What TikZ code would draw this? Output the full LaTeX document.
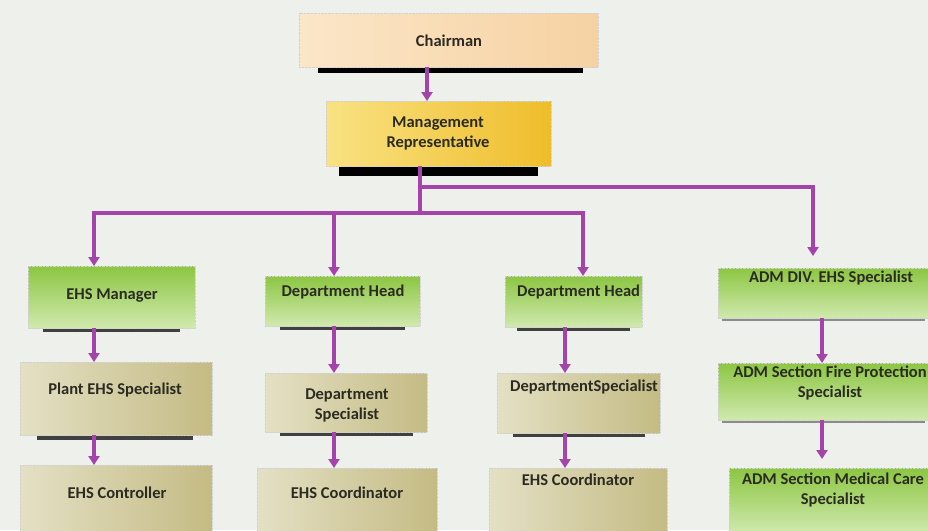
\documentclass[tikz,border=0pt]{standalone}
\usepackage{fontspec}
\setmainfont{Carlito}
\usetikzlibrary{arrows.meta}

\definecolor{bg}{HTML}{EDF0EB}
\definecolor{ink}{HTML}{2B2B22}
\definecolor{wire}{HTML}{A444AA}
\definecolor{peachL}{HTML}{FBE6C8}
\definecolor{peachR}{HTML}{F6D2A2}
\definecolor{goldL}{HTML}{F9E283}
\definecolor{goldR}{HTML}{EFBD2A}
\definecolor{greenT}{HTML}{8CC642}
\definecolor{greenB}{HTML}{D0E9AE}
\definecolor{tanL}{HTML}{E4E0C4}
\definecolor{tanR}{HTML}{C4BB84}

\tikzset{
  box/.style={anchor=north west, inner sep=0pt, outer sep=0pt,
    draw=black!18, densely dotted, line width=0.4pt},
  peachbox/.style={box, left color=peachL, right color=peachR},
  goldbox/.style={box, left color=goldL, right color=goldR},
  greenbox/.style={box, top color=greenT, bottom color=greenB},
  tanbox/.style={box, left color=tanL, right color=tanR},
  lbl/.style={font=\bfseries\fontsize{16.5}{20}\selectfont, text=ink,
    align=center, inner sep=0pt},
  conn/.style={draw=wire, line width=3.4pt,
    -{Triangle[width=11pt,length=9pt]}},
  bar/.style={fill=black},
  thinbar/.style={fill=black!75},
}

\begin{document}
\begin{tikzpicture}[x=1pt,y=-1pt]
  \useasboundingbox (0,0) rectangle (928,530);
  \clip (0,0) rectangle (928,530);
  \fill[bg] (0,0) rectangle (928,530);

  % shadow bars beneath the boxes
  \path[bar] (318,66) rectangle (583,73);
  \path[bar] (339,165) rectangle (538,176);
  \path[thinbar] (43,327) rectangle (180,332);
  \path[thinbar] (37,434) rectangle (193,440);
  \path[thinbar] (280,325) rectangle (405,330);
  \path[thinbar] (280,431) rectangle (413,436);
  \path[thinbar] (517,326) rectangle (630,331);
  \path[thinbar] (513,432) rectangle (645,437);
  \path[fill=black!45] (722,317) rectangle (925,321);
  \path[fill=black!45] (722,419) rectangle (925,423);

  % boxes
  \node[peachbox, minimum width=299pt, minimum height=54pt] (chair) at (299,13) {};
  \node[goldbox,  minimum width=225pt, minimum height=65pt] (mr)    at (326,101) {};

  \node[greenbox, minimum width=167pt, minimum height=62pt] (ehsm)  at (28,266) {};
  \node[tanbox,   minimum width=192pt, minimum height=73pt] (plant) at (20,362) {};
  \node[tanbox,   minimum width=192pt, minimum height=70pt] (ctrl)  at (20,465) {};

  \node[greenbox, minimum width=155pt, minimum height=50pt] (dhA)   at (265,276) {};
  \node[tanbox,   minimum width=162pt, minimum height=59pt] (dsA)   at (265,373) {};
  \node[tanbox,   minimum width=180pt, minimum height=65pt] (ecA)   at (257,468) {};

  \node[greenbox, minimum width=137pt, minimum height=51pt] (dhB)   at (505,276) {};
  \node[tanbox,   minimum width=163pt, minimum height=60pt] (dsB)   at (497,373) {};
  \node[tanbox,   minimum width=178pt, minimum height=65pt] (ecB)   at (489,468) {};

  \node[greenbox, minimum width=215pt, minimum height=50pt] (adm)   at (718,268) {};
  \node[greenbox, minimum width=215pt, minimum height=57pt] (fire)  at (718,363) {};
  \node[greenbox, minimum width=210pt, minimum height=65pt] (med)   at (729,468) {};

  % labels
  \node[lbl] (tChair) at (449,41)  {Chairman};
  \node[lbl] (tMr)    at (438,133.5) {Management\\Representative};
  \node[lbl] (tEhsm)  at (112,295) {EHS Manager};
  \node[lbl] (tPlant) at (115,390) {Plant EHS Specialist};
  \node[lbl] (tCtrl)  at (117,493) {EHS Controller};
  \node[lbl] (tDhA)   at (343,292) {Department Head};
  \node[lbl] (tDsA)   at (347,405) {Department\\Specialist};
  \node[lbl] (tEcA)   at (347,493) {EHS Coordinator};
  \begin{scope}
    \clip (dhB.south west) rectangle (dhB.north east);
    \node[lbl, anchor=west] (tDhB) at (517,292) {Department Head};
  \end{scope}
  \node[lbl] (tDsB)   at (584,387) {DepartmentSpecialist};
  \node[lbl] (tEcB)   at (578,480) {EHS Coordinator};
  \node[lbl] (tAdm)   at (831,278) {ADM DIV. EHS Specialist};
  \node[lbl] (tFire)  at (830,382.5) {ADM Section Fire Protection\\Specialist};
  \node[lbl] (tMed)   at (833,490) {ADM Section Medical Care\\Specialist};

  % connector guide lines
  \coordinate (xTop) at (427,0);
  \coordinate (xHub) at (420,0);
  \coordinate (xA)   at (94,0);
  \coordinate (xB)   at (334,0);
  \coordinate (xC)   at (583,0);
  \coordinate (xC2)  at (565,0);
  \coordinate (xD)   at (813,0);
  \coordinate (xD2)  at (822,0);
  \coordinate (busL) at (0,213);
  \coordinate (busR) at (0,187);

  % connectors
  \draw[conn] (chair.south -| xTop) -- (mr.north -| xTop);
  \draw[conn] (mr.south -| xHub) |- (busL -| xA) -- (ehsm.north -| xA);
  \draw[conn] (mr.south -| xHub) |- (busL -| xB) -- (dhA.north -| xB);
  \draw[conn] (mr.south -| xHub) |- (busL -| xC) -- (dhB.north -| xC);
  \draw[conn, shorten >=12pt] (mr.south -| xHub) |- (busR -| xD) -- (adm.north -| xD);

  \draw[conn] (ehsm.south -| xA) -- (plant.north -| xA);
  \draw[conn] (plant.south -| xA) -- (ctrl.north -| xA);
  \draw[conn] (dhA.south -| xB) -- (dsA.north -| xB);
  \draw[conn] (dsA.south -| xB) -- (ecA.north -| xB);
  \draw[conn] (dhB.south -| xC2) -- (dsB.north -| xC2);
  \draw[conn] (dsB.south -| xC2) -- (ecB.north -| xC2);
  \draw[conn] (adm.south -| xD2) -- (fire.north -| xD2);
  \draw[conn, shorten >=9pt] (fire.south -| xD2) -- (med.north -| xD2);
\end{tikzpicture}
\end{document}
